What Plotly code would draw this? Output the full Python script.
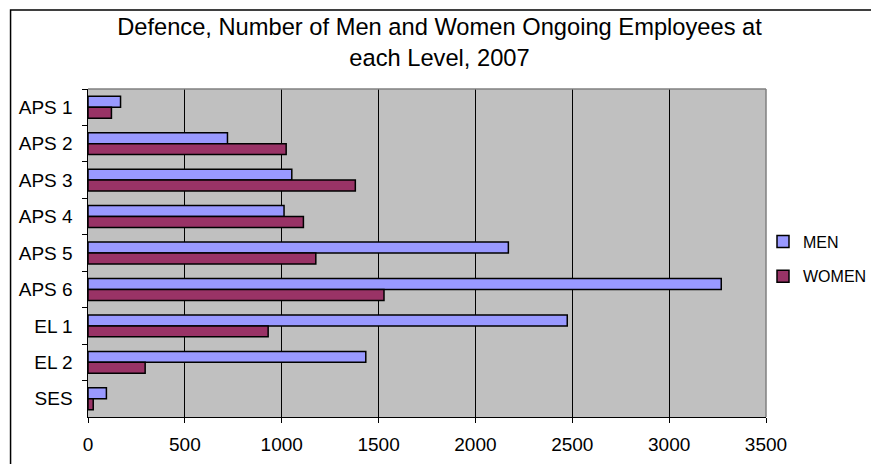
import plotly.graph_objects as go

categories = ["APS 1", "APS 2", "APS 3", "APS 4", "APS 5", "APS 6", "EL 1", "EL 2", "SES"]
men = [168, 720, 1052, 1012, 2170, 3269, 2474, 1434, 95]
women = [121, 1023, 1380, 1112, 1176, 1528, 930, 295, 27]
x_ticks = [0, 500, 1000, 1500, 2000, 2500, 3000, 3500]

W, H = 879, 464
OFF = 8  # page body margin
# plot area in screen pixels
SL, SR, ST, SB = 87.5, 766, 89, 417
L, R, T, B = SL - OFF, SR - OFF, ST - OFF, SB - OFF

def px(x):  # screen x -> paper
    return (x - OFF - L) / (R - L)

def py(y):  # screen y -> paper
    return (B - (y - OFF)) / (B - T)

fig = go.Figure()
fig.add_trace(go.Bar(y=categories, x=men, orientation="h", name="MEN",
                     marker=dict(color="#9999FF", line=dict(color="black", width=1.5)),
                     legendgroup="m"))
fig.add_trace(go.Bar(y=categories, x=women, orientation="h", name="WOMEN",
                     marker=dict(color="#993366", line=dict(color="black", width=1.5)),
                     legendgroup="w"))

font = "Liberation Sans, Arial, sans-serif"
fig.update_layout(
    width=W, height=H,
    margin=dict(l=L, r=W - R, t=T, b=H - B, pad=0, autoexpand=False),
    paper_bgcolor="white", plot_bgcolor="#C0C0C0",
    barmode="group", bargap=0.4, bargroupgap=0,
    font=dict(family=font, size=19, color="black"),
    title=dict(text="Defence, Number of Men and Women Ongoing Employees at<br>each Level, 2007",
               x=(879 / 2 - OFF) / W, xref="container", xanchor="center",
               y=1 - 27 / H, yref="container", yanchor="top",
               font=dict(family=font, size=23.7, color="black")),
    legend=dict(x=px(763), xanchor="left", y=py(259), yanchor="middle",
                font=dict(family=font, size=16), tracegroupgap=11,
                bgcolor="rgba(0,0,0,0)"),
    showlegend=True,
)
fig.update_xaxes(range=[0, 3500], tickvals=x_ticks, ticktext=[str(v) for v in x_ticks],
                 showgrid=True, gridcolor="black", gridwidth=1,
                 ticks="outside", ticklen=5, tickcolor="black", ticklabelstandoff=5,
                 showline=True, linecolor="black", linewidth=1, zeroline=False,
                 automargin=False, fixedrange=True)
fig.update_yaxes(autorange="reversed", categoryorder="array", categoryarray=categories,
                 ticks="outside", ticklen=5, tickcolor="black", tickson="boundaries",
                 showline=True, linecolor="black", linewidth=1, showgrid=False,
                 ticksuffix="  ", automargin=False, fixedrange=True)

# plot area top/right gray border
fig.add_shape(type="line", xref="paper", yref="paper", x0=0, x1=1, y0=1, y1=1,
              line=dict(color="#808080", width=1.5))
fig.add_shape(type="line", xref="paper", yref="paper", x0=1, x1=1, y0=0, y1=1,
              line=dict(color="#808080", width=1.5))
# outer chart border (only left and top edges fall inside the picture)
fig.add_shape(type="rect", xref="paper", yref="paper",
              x0=px(10), x1=px(900), y0=py(490), y1=py(10),
              line=dict(color="black", width=1.5), fillcolor="rgba(0,0,0,0)", layer="below")

fig.write_html("out.html")
